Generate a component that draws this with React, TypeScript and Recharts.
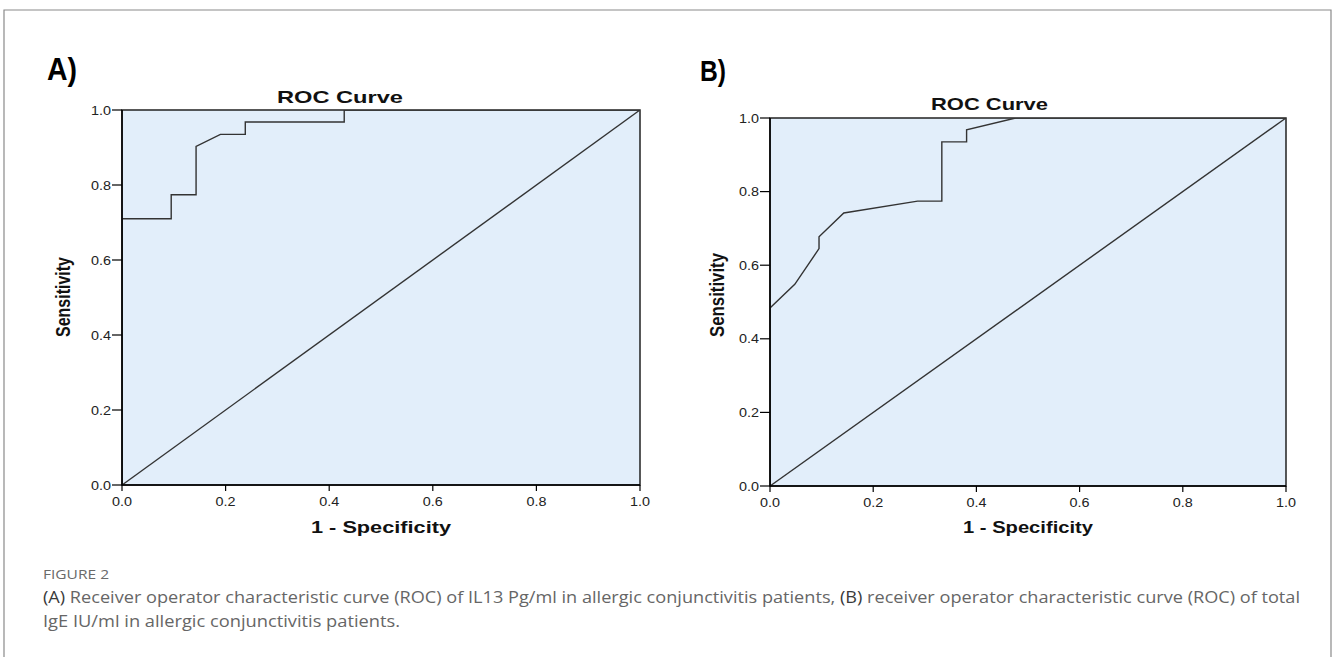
import React from "react";
import { LineChart, Line, XAxis, YAxis, ReferenceArea } from "recharts";

// ---- data ----
const axisTicks = [0, 0.2, 0.4, 0.6, 0.8, 1.0];

const rocA_fpr = [0, 0, 0.095, 0.095, 0.143, 0.143, 0.19, 0.238, 0.238, 0.429, 0.429, 1];
const rocA_tpr = [0, 0.71, 0.71, 0.774, 0.774, 0.903, 0.935, 0.935, 0.968, 0.968, 1, 1];

const rocB_fpr = [0, 0, 0.048, 0.095, 0.095, 0.143, 0.286, 0.333, 0.333, 0.381, 0.381, 0.476, 1];
const rocB_tpr = [0, 0.484, 0.548, 0.645, 0.677, 0.742, 0.774, 0.774, 0.935, 0.935, 0.968, 1, 1];

const refLine_fpr = [0, 1];
const refLine_tpr = [0, 1];

const chartTitle = "ROC Curve";
const xLabel = "1 - Specificity";
const yLabel = "Sensitivity";
const panelLabels = ["A)", "B)"];
const figureLabel = "FIGURE 2";
const captionLine1 = [
  { t: "(A)", dark: true },
  { t: " Receiver operator characteristic curve (ROC) of IL13 Pg/ml in allergic conjunctivitis patients, ", dark: false },
  { t: "(B)", dark: true },
  { t: " receiver operator characteristic curve (ROC) of total", dark: false },
];
const captionLine2 = "IgE IU/ml in allergic conjunctivitis patients.";

const toPoints = (xs: number[], ys: number[]) => xs.map((x, i) => ({ x, y: ys[i] }));

const PLOT_BG = "#e2eefa";
const LINE = "#333333";
const FONT = "'Liberation Sans', Arial, sans-serif";

const XTick = (props: any) => {
  const { x, y, payload } = props;
  return (
    <text x={x} y={y} dy="0.71em" textAnchor="middle" fontSize={12.5} fontFamily={FONT} fill="#222"
      textLength={20} lengthAdjust="spacingAndGlyphs">
      {Number(payload.value).toFixed(1)}
    </text>
  );
};

const YTick = (props: any) => {
  const { x, y, payload } = props;
  return (
    <text x={x} y={y} dy="0.36em" textAnchor="end" fontSize={12.5} fontFamily={FONT} fill="#222"
      textLength={20} lengthAdjust="spacingAndGlyphs">
      {Number(payload.value).toFixed(1)}
    </text>
  );
};

type PanelProps = {
  fpr: number[];
  tpr: number[];
  width: number;
  height: number;
  margin: { top: number; right: number; bottom: number; left: number };
  yAxisWidth: number;
};

const RocPanel = ({ fpr, tpr, width, height, margin, yAxisWidth }: PanelProps) => (
  <LineChart width={width} height={height} margin={margin}>
    <XAxis
      type="number"
      dataKey="x"
      domain={[0, 1]}
      ticks={axisTicks}
      allowDataOverflow
      height={40}
      tickSize={6}
      tickMargin={6}
      axisLine={{ stroke: "#000", strokeWidth: 1.5 }}
      tickLine={{ stroke: "#000", strokeWidth: 1.2 }}
      tick={<XTick />}
    />
    <YAxis
      type="number"
      dataKey="y"
      domain={[0, 1]}
      ticks={axisTicks}
      allowDataOverflow
      width={yAxisWidth}
      tickSize={10}
      tickMargin={1}
      axisLine={{ stroke: "#000", strokeWidth: 1.5 }}
      tickLine={{ stroke: "#000", strokeWidth: 1.2 }}
      tick={<YTick />}
    />
    <ReferenceArea x1={0} x2={1} y1={0} y2={1} fill={PLOT_BG} fillOpacity={1} stroke="#222" strokeWidth={1.5} ifOverflow="extendDomain" />
    <Line
      data={toPoints(refLine_fpr, refLine_tpr)}
      dataKey="y"
      type="linear"
      stroke={LINE}
      strokeWidth={1.4}
      dot={false}
      activeDot={false}
      isAnimationActive={false}
    />
    <Line
      data={toPoints(fpr, tpr)}
      dataKey="y"
      type="linear"
      stroke={LINE}
      strokeWidth={1.4}
      dot={false}
      activeDot={false}
      isAnimationActive={false}
    />
  </LineChart>
);

export default function App() {
  return (
    <div style={{ position: "absolute", left: 0, top: 0, width: 1335, height: 657, overflow: "hidden", background: "#fff" }}>
      <div style={{ position: "absolute", left: 0, top: 0 }}>
        <RocPanel fpr={rocA_fpr} tpr={rocA_tpr} width={700} height={560}
          margin={{ top: 110, right: 60, bottom: 35, left: 0 }} yAxisWidth={122} />
      </div>
      <div style={{ position: "absolute", left: 650, top: 0 }}>
        <RocPanel fpr={rocB_fpr} tpr={rocB_tpr} width={680} height={560}
          margin={{ top: 118, right: 44, bottom: 34, left: 0 }} yAxisWidth={120} />
      </div>
      <svg width={1335} height={657} style={{ position: "absolute", left: 0, top: 0, pointerEvents: "none" }}>
        {/* figure frame */}
        <polyline points="4,700 4,10 1331,10 1331,700" fill="none" stroke="#8a8a8a" strokeWidth={1.2} />

        {/* panel letters */}
        <text x={47} y={80} fontSize={32} fontWeight="bold" fontFamily={FONT} fill="#000" textLength={30} lengthAdjust="spacingAndGlyphs">{panelLabels[0]}</text>
        <text x={700} y={81} fontSize={29} fontWeight="bold" fontFamily={FONT} fill="#000" textLength={26} lengthAdjust="spacingAndGlyphs">{panelLabels[1]}</text>

        {/* titles */}
        <text x={277} y={103} fontSize={17} fontWeight="bold" fontFamily={FONT} fill="#111" textLength={126} lengthAdjust="spacingAndGlyphs">{chartTitle}</text>
        <text x={931} y={110} fontSize={17} fontWeight="bold" fontFamily={FONT} fill="#111" textLength={117} lengthAdjust="spacingAndGlyphs">{chartTitle}</text>

        {/* x labels */}
        <text x={311} y={533} fontSize={16.5} fontWeight="bold" fontFamily={FONT} fill="#111" textLength={140} lengthAdjust="spacingAndGlyphs">{xLabel}</text>
        <text x={963} y={533} fontSize={16.5} fontWeight="bold" fontFamily={FONT} fill="#111" textLength={130} lengthAdjust="spacingAndGlyphs">{xLabel}</text>

        {/* y labels */}
        <g transform="translate(63,297) scale(1.3,1) rotate(-90)">
          <text x={0} y={0} dy="0.35em" textAnchor="middle" fontSize={16} fontWeight="bold" fontFamily={FONT} fill="#111" textLength={80} lengthAdjust="spacingAndGlyphs">{yLabel}</text>
        </g>
        <g transform="translate(717,295) scale(1.3,1) rotate(-90)">
          <text x={0} y={0} dy="0.35em" textAnchor="middle" fontSize={16} fontWeight="bold" fontFamily={FONT} fill="#111" textLength={84} lengthAdjust="spacingAndGlyphs">{yLabel}</text>
        </g>

        {/* caption */}
        <text x={43} y={579} fontSize={13} fontFamily="'Open Sans', sans-serif" fill="#6a6a6a" textLength={66} lengthAdjust="spacingAndGlyphs">{figureLabel}</text>
        <text x={43} y={603} fontSize={17} fontFamily="'Open Sans', sans-serif" fill="#666" textLength={1257} lengthAdjust="spacingAndGlyphs">
          {captionLine1.map((s, i) => (
            <tspan key={i} fill={s.dark ? "#3a3a3a" : "#666"}>{s.t}</tspan>
          ))}
        </text>
        <text x={43} y={627} fontSize={17} fontFamily="'Open Sans', sans-serif" fill="#666" textLength={357} lengthAdjust="spacingAndGlyphs">{captionLine2}</text>
      </svg>
    </div>
  );
}
